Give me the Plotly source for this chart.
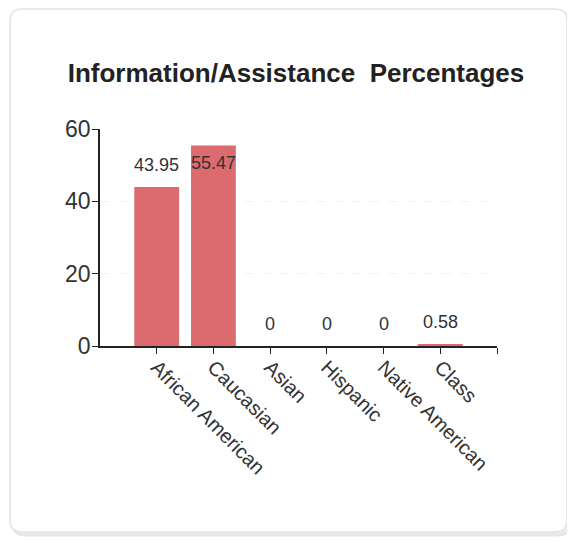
import plotly.graph_objects as go

categories = ["African American", "Caucasian", "Asian", "Hispanic", "Native American", "Class"]
values = [43.95, 55.47, 0, 0, 0, 0.58]
value_labels = ["43.95", "55.47", "0", "0", "0", "0.58"]
y_ticks = [0, 20, 40, 60]

# page body has an 8px margin, so the figure is 8px smaller and offset
OFF = 8
W, H = 575 - OFF, 546 - OFF
L, T = 100 - OFF, 129 - OFF
R = W - (497 - OFF)
B = H - (346 - OFF)
pw, ph = W - L - R, H - T - B

def px_x(p):
    return (p - OFF - L) / pw

def px_y(p):
    return (H - B - (p - OFF)) / ph

xs = list(range(len(categories)))
FONT = "Liberation Sans, Arial"

fig = go.Figure()
fig.add_trace(go.Bar(
    x=xs, y=values, width=0.79,
    marker=dict(color="#dc6b6f", line=dict(width=0)),
    hoverinfo="skip",
))

for i, (v, t) in enumerate(zip(values, value_labels)):
    fig.add_annotation(x=i, y=min(v + 6, 50.6), text=t, showarrow=False,
                       xref="x", yref="y", yanchor="middle",
                       font=dict(family=FONT, size=18, color="#333333"))

# card background
x0, x1, y0, y1 = px_x(10), px_x(567), px_y(9), px_y(532)
rx, ry = 12 / pw, 12 / ph
def rrect(dx, dy):
    a0, a1, b0, b1 = x0 + dx, x1 + dx, y0 - dy, y1 - dy
    return (f"M {a0+rx},{b0} L {a1-rx},{b0} Q {a1},{b0} {a1},{b0-ry} "
            f"L {a1},{b1+ry} Q {a1},{b1} {a1-rx},{b1} L {a0+rx},{b1} "
            f"Q {a0},{b1} {a0},{b1+ry} L {a0},{b0-ry} Q {a0},{b0} {a0+rx},{b0} Z")
fig.add_shape(type="path", path=rrect(3 / pw, 3 / ph), xref="paper", yref="paper",
              line=dict(color="#e6e6e6", width=3), fillcolor="#eeeeee", layer="below")
fig.add_shape(type="path", path=rrect(0, 0), xref="paper", yref="paper",
              line=dict(color="#e2e2e2", width=1.5), fillcolor="white", layer="below")

fig.update_layout(
    width=W, height=H,
    margin=dict(l=L, r=R, t=T, b=B),
    paper_bgcolor="white", plot_bgcolor="rgba(0,0,0,0)",
    showlegend=False,
    title=dict(text="<b>Information/Assistance  Percentages</b>", x=(296 - OFF) / W,
               xanchor="center", y=1 - (73 - OFF) / H, yanchor="middle",
               font=dict(family=FONT, size=26, color="#222222")),
    xaxis=dict(range=[-1, 6], tickvals=xs + [6], ticktext=categories + [""],
               tickangle=45, showline=True, linecolor="#222222", linewidth=1.5,
               ticks="outside", ticklen=6, tickcolor="#222222", showgrid=False,
               zeroline=False, ticklabelstandoff=-6,
               tickfont=dict(family=FONT, size=20, color="#333333")),
    yaxis=dict(range=[0, 60], tickvals=y_ticks, showline=True, linecolor="#222222",
               linewidth=1.5, ticks="outside", ticklen=6, tickcolor="#222222",
               showgrid=True, gridcolor="#f2f2f2", griddash="dash", zeroline=False,
               ticklabelstandoff=-3,
               tickfont=dict(family=FONT, size=23, color="#333333")),
)

fig.write_html("out.html")
